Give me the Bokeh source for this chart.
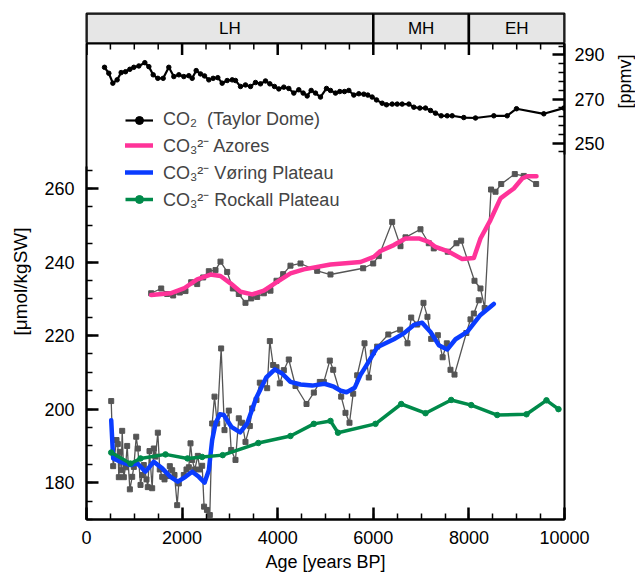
import math
from bokeh.plotting import figure
from bokeh.models import Range1d, LinearAxis, FixedTicker, Legend, LegendItem
from bokeh.layouts import column, row
from bokeh.embed import file_html
from bokeh.resources import INLINE
from bokeh.core.properties import value

FONT = "Liberation Sans"

# ---------------- data ----------------
periods = ["LH", "MH", "EH"]
period_start = [0, 6000, 8000]
period_end = [6000, 8000, 10000]

x_major = [0, 2000, 4000, 6000, 8000, 10000]
x_minor = list(range(0, 10001, 500))
y_major = [180, 200, 220, 240, 260]
y_minor = list(range(170, 266, 5))
co2_major = [250, 270, 290]
co2_minor = [246, 254, 258, 262, 266, 274, 278, 282, 286, 294]

co2_age = [377, 467, 551, 641, 725, 816, 907, 990, 1095, 1220, 1304, 1395, 1492, 1604, 1722,
           1827, 1932, 2036, 2141, 2211, 2295, 2385, 2469, 2559, 2650, 2747, 2838, 2943, 3048,
           3117, 3222, 3326, 3431, 3536, 3640, 3745, 3835, 3933, 4023, 4128, 4232, 4337, 4441,
           4533, 4617, 4700, 4791, 4895, 5021, 5104, 5209, 5299, 5397, 5488, 5592, 5697, 5801,
           5885, 5976, 6067, 6186, 6276, 6395, 6500, 6604, 6744, 6848, 6974, 7092, 7197, 7301,
           7420, 7546, 7650, 7893, 8138, 8521, 8801, 8996, 9567, 9986]
co2_ppm = [284.4, 281.7, 277.2, 278.7, 282.0, 282.4, 283.5, 284.4, 285.0, 286.5, 284.7, 281.0,
           279.4, 279.4, 284.4, 280.2, 281.0, 280.2, 280.6, 279.4, 282.9, 281.4, 280.5, 278.7,
           279.4, 279.7, 277.2, 278.4, 278.7, 278.4, 275.7, 276.4, 275.7, 277.5, 276.9, 278.2,
           276.9, 275.7, 274.6, 275.4, 274.8, 272.7, 274.2, 272.7, 271.4, 273.9, 272.7, 270.9,
           274.8, 273.9, 272.7, 273.4, 273.4, 273.9, 271.8, 272.4, 272.2, 271.8, 270.9, 269.6,
           268.1, 267.4, 267.7, 267.7, 267.7, 267.7, 266.3, 265.9, 265.9, 264.8, 263.6, 262.4,
           262.4, 262.4, 261.6, 261.4, 262.4, 262.4, 265.6, 263.3, 265.9]

az_raw_age = [1353, 1563, 1688, 1813, 1952, 2071, 2190, 2316, 2441, 2559, 2699, 2803, 2943, 3061,
              3186, 3326, 3445, 3571, 3710, 3849, 3975, 4114, 4267, 4477, 4826, 5104, 5788, 5998,
              6115, 6395, 6569, 6674, 6987, 7161, 7265, 7558, 7740, 7838, 8117, 8242, 8330, 8463,
              8557, 8676, 8960, 9148, 9407]
az_raw_val = [231.5, 232.8, 231.3, 230.9, 231.7, 232.1, 234.5, 234.0, 235.8, 237.5, 237.8, 240.1,
              237.3, 232.8, 231.3, 228.9, 230.1, 230.5, 231.5, 232.2, 234.9, 236.7, 239.0, 239.6,
              237.6, 236.6, 238.3, 239.6, 241.6, 250.9, 244.3, 246.7, 248.9, 245.1, 243.7, 242.8,
              245.1, 245.8, 234.9, 232.8, 227.5, 259.7, 259.1, 261.2, 263.9, 263.4, 261.2]

az_age = [1353, 1757, 2036, 2316, 2594, 2803, 3013, 3222, 3466, 3710, 3989, 4267, 4546, 5104,
          5732, 6011, 6150, 6429, 6674, 6952, 7161, 7301, 7579, 7859, 8103, 8242, 8451, 8661,
          8940, 9115, 9220, 9414]
az_val = [231.0, 231.5, 232.8, 235.3, 236.6, 236.2, 234.2, 231.9, 231.2, 232.2, 234.6, 236.9,
          238.0, 239.3, 240.0, 241.4, 243.0, 244.6, 246.4, 246.4, 245.5, 244.1, 242.8, 240.8,
          241.1, 246.4, 251.4, 257.3, 260.0, 262.7, 263.3, 263.3]

vo_raw_age = [517, 558, 586, 628, 655, 676, 697, 726, 747, 781, 816, 851, 907, 956, 990, 1040,
              1074, 1130, 1165, 1199, 1255, 1283, 1318, 1374, 1408, 1443, 1492, 1533, 1584, 1632,
              1688, 1743, 1793, 1841, 1897, 1931, 2036, 2092, 2141, 2176, 2211, 2266, 2329, 2371,
              2420, 2460, 2520, 2580, 2629, 2678, 2734, 2817, 2887, 2977, 3027, 3117, 3186, 3256,
              3326, 3417, 3466, 3557, 3626, 3780, 3835, 3905, 3975, 4044, 4128, 4232, 4372, 4603,
              4756, 4881, 4965, 5090, 5161, 5328, 5418, 5502, 5579, 5663, 5816, 5906, 5990, 6081,
              6314, 6562, 6715, 6793, 6918, 7050, 7133, 7211, 7350, 7450, 7538, 7615, 7699, 7947,
              8033, 8103, 8207]
vo_raw_val = [202.2, 184.5, 187.1, 191.6, 190.5, 181.5, 188.4, 183.4, 194.1, 181.5, 184.2, 190.0,
              178.2, 181.6, 184.3, 192.5, 189.3, 179.4, 182.1, 184.8, 180.9, 178.8, 188.6, 178.5,
              189.3, 187.1, 193.6, 183.6, 181.6, 180.9, 181.8, 184.5, 183.4, 182.1, 173.9, 179.8,
              182.1, 183.6, 184.2, 190.7, 186.2, 183.6, 187.3, 183.6, 184.6, 173.5, 172.6, 171.2,
              196.1, 203.4, 196.1, 216.5, 194.3, 199.6, 188.9, 186.2, 197.5, 196.3, 191.1, 195.4,
              200.2, 202.5, 207.2, 205.7, 218.5, 212.0, 211.4, 207.0, 210.6, 213.5, 206.3, 201.4,
              204.5, 207.4, 207.4, 213.2, 210.7, 203.4, 199.0, 196.3, 204.2, 209.2, 217.9, 208.6,
              215.4, 217.0, 220.3, 221.6, 217.9, 224.9, 223.0, 228.9, 225.1, 219.1, 220.1, 214.1,
              217.9, 210.7, 209.4, 220.7, 224.4, 226.0, 229.6]

vo_age = [517, 558, 711, 920, 1060, 1234, 1408, 1584, 1757, 1910, 2071, 2211, 2350, 2470, 2559,
          2594, 2629, 2699, 2790, 2872, 3030, 3215, 3361, 3550, 3760, 3940, 4093, 4267, 4477,
          4720, 4980, 5174, 5320, 5440, 5610, 5732, 5837, 6081, 6429, 6638, 6848, 7022, 7197,
          7370, 7546, 7720, 7964, 8242, 8521]
vo_val = [197.0, 186.6, 185.7, 184.8, 185.3, 183.0, 185.7, 183.9, 181.6, 180.3, 181.6, 183.0,
          181.6, 180.0, 183.4, 187.5, 191.6, 196.1, 198.6, 198.4, 195.2, 193.7, 196.1, 203.0,
          208.6, 210.8, 209.7, 207.4, 206.7, 206.4, 206.9, 206.1, 205.0, 204.6, 205.8, 209.3,
          211.5, 216.8, 219.0, 220.6, 222.9, 223.5, 221.0, 217.4, 216.2, 219.0, 221.0, 225.6,
          228.6]

ro_age = [517, 920, 1130, 1653, 2113, 2420, 2849, 3595, 4267, 4756, 5104, 5261, 6046, 6584,
          7092, 7629, 8048, 8592, 9205, 9623, 9874]
ro_val = [188.2, 185.2, 186.6, 187.7, 186.6, 187.0, 187.5, 190.8, 192.7, 196.0, 196.8, 193.6,
          196.0, 201.4, 198.9, 202.5, 201.1, 198.4, 198.6, 202.4, 200.0]

labels = ["CO\u2082  (Taylor Dome)", "CO\u2083\u00b2\u207b Azores",
          "CO\u2083\u00b2\u207b V\u00f8ring Plateau", "CO\u2083\u00b2\u207b Rockall Plateau"]
co2_axis_title = "[ppmv]"
co2_title_at = 278

# ---------------- figures ----------------
W = 614
LB, RB = 86, 50
TOP, FRAME_H, BOT = 43, 476, 59
Y0, Y1 = 170, 299.4
xr = Range1d(0, 10000)
co2_range = Range1d(79.2, 295.2)

band = figure(width=W, height=TOP, x_range=xr, y_range=Range1d(0, 1),
              output_backend="svg", toolbar_location=None,
              min_border_left=LB, min_border_right=RB, min_border_top=13, min_border_bottom=0,
              x_axis_type=None, y_axis_type=None)
band.outline_line_color = "black"
band.outline_line_width = 2
band.grid.visible = False
band.quad(left=period_start, right=period_end, bottom=0, top=1,
          fill_color="#e6e6e6", line_color="black", line_width=2.5)
mids = [(a + b) / 2 for a, b in zip(period_start, period_end)]
band.text(x=mids, y=[0.5] * len(mids), text=periods, text_align="center",
          text_baseline="middle", text_font=value(FONT), text_font_size="17px",
          text_color="black")

p = figure(width=W, height=FRAME_H + BOT, x_range=xr, y_range=Range1d(Y0, Y1),
           output_backend="svg", toolbar_location=None,
           min_border_left=LB, min_border_right=RB, min_border_top=0, min_border_bottom=BOT)
p.extra_y_ranges = {"co2": co2_range}
p.grid.visible = False
p.outline_line_color = "black"
p.outline_line_width = 2


def style(ax):
    ax.axis_line_width = 2
    ax.axis_line_color = "black"
    ax.major_tick_in = 12
    ax.major_tick_out = 0
    ax.minor_tick_in = 6
    ax.minor_tick_out = 0
    ax.major_tick_line_width = 2.5
    ax.minor_tick_line_width = 1.5
    ax.major_tick_line_color = "black"
    ax.minor_tick_line_color = "black"
    ax.major_label_text_font = FONT
    ax.major_label_text_font_size = "18px"
    ax.major_label_text_color = "black"
    ax.axis_label_text_font = FONT
    ax.axis_label_text_font_size = "18px"
    ax.axis_label_text_font_style = "normal"
    ax.axis_label_text_color = "black"


xa = p.xaxis[0]
xa.ticker = FixedTicker(ticks=x_major, minor_ticks=x_minor)
xa.axis_label = "Age [years BP]"
style(xa)
xa.major_label_standoff = 11
xa.axis_label_standoff = 5

ya = p.yaxis[0]
ya.ticker = FixedTicker(ticks=y_major, minor_ticks=y_minor)
ya.bounds = (170, 266)
ya.axis_label = "[\u03bcmol/kgSW]"
style(ya)
ya.axis_label_text_font_size = "19px"
ya.major_label_standoff = 12
ya.axis_label_standoff = 10

ra = LinearAxis(y_range_name="co2", ticker=FixedTicker(ticks=co2_major, minor_ticks=co2_minor),
                bounds=(245, 295))
style(ra)
ra.major_label_standoff = 10
p.add_layout(ra, "right")

# inward ticks along the top edge of the plot (frame-clipped half dashes)
p.scatter(x_major, [Y1] * len(x_major), marker="dash", angle=math.pi / 2, size=23,
          line_color="black", line_width=2.5)
p.scatter(x_minor, [Y1] * len(x_minor), marker="dash", angle=math.pi / 2, size=12,
          line_color="black", line_width=1.5)

GRAY = "#555555"
p.line(az_raw_age, az_raw_val, line_color=GRAY, line_width=1.3)
p.scatter(az_raw_age, az_raw_val, marker="square", size=5, color=GRAY)
p.line(vo_raw_age, vo_raw_val, line_color=GRAY, line_width=1.3)
p.scatter(vo_raw_age, vo_raw_val, marker="square", size=5, color=GRAY)

az_line = p.line(az_age, az_val, line_color="#ff3399", line_width=4.5,
                 line_cap="round", line_join="round")
vo_line = p.line(vo_age, vo_val, line_color="#0a3cff", line_width=4.5,
                 line_cap="round", line_join="round")
ro_line = p.line(ro_age, ro_val, line_color="#008a4a", line_width=3.5, line_join="round")
ro_dots = p.scatter(ro_age, ro_val, marker="circle", size=5.5, color="#008a4a")

co2_line = p.line(co2_age, co2_ppm, y_range_name="co2", line_color="black", line_width=2.2,
                  line_join="round")
co2_dots = p.scatter(co2_age, co2_ppm, y_range_name="co2", marker="circle", size=4.5,
                     color="black")

legend = Legend(items=[
    LegendItem(label=labels[0], renderers=[co2_line, co2_dots]),
    LegendItem(label=labels[1], renderers=[az_line]),
    LegendItem(label=labels[2], renderers=[vo_line]),
    LegendItem(label=labels[3], renderers=[ro_line, ro_dots]),
], location=(39, 308), border_line_color=None, background_fill_alpha=0, padding=0,
    spacing=3, glyph_width=28, glyph_height=20, label_height=20, label_standoff=10,
    label_text_font=FONT, label_text_font_size="18px", margin=0)
p.add_layout(legend)

# narrow strip on the right holding the CO2 axis title, on the CO2 scale
lab = figure(width=21, height=TOP + FRAME_H + BOT, x_range=Range1d(0, 1), y_range=co2_range,
             output_backend="svg", toolbar_location=None,
             min_border_left=0, min_border_right=0, min_border_top=TOP, min_border_bottom=BOT,
             x_axis_type=None, y_axis_type=None)
lab.outline_line_color = None
lab.grid.visible = False
lab.text(x=[0.5], y=[co2_title_at], text=[co2_axis_title], angle=math.pi / 2,
         text_align="center", text_baseline="middle", text_font=value(FONT),
         text_font_size="18px", text_color="black")

layout = row(column(band, p, spacing=0), lab, spacing=0)
open("out.html", "w").write(file_html(layout, INLINE))
